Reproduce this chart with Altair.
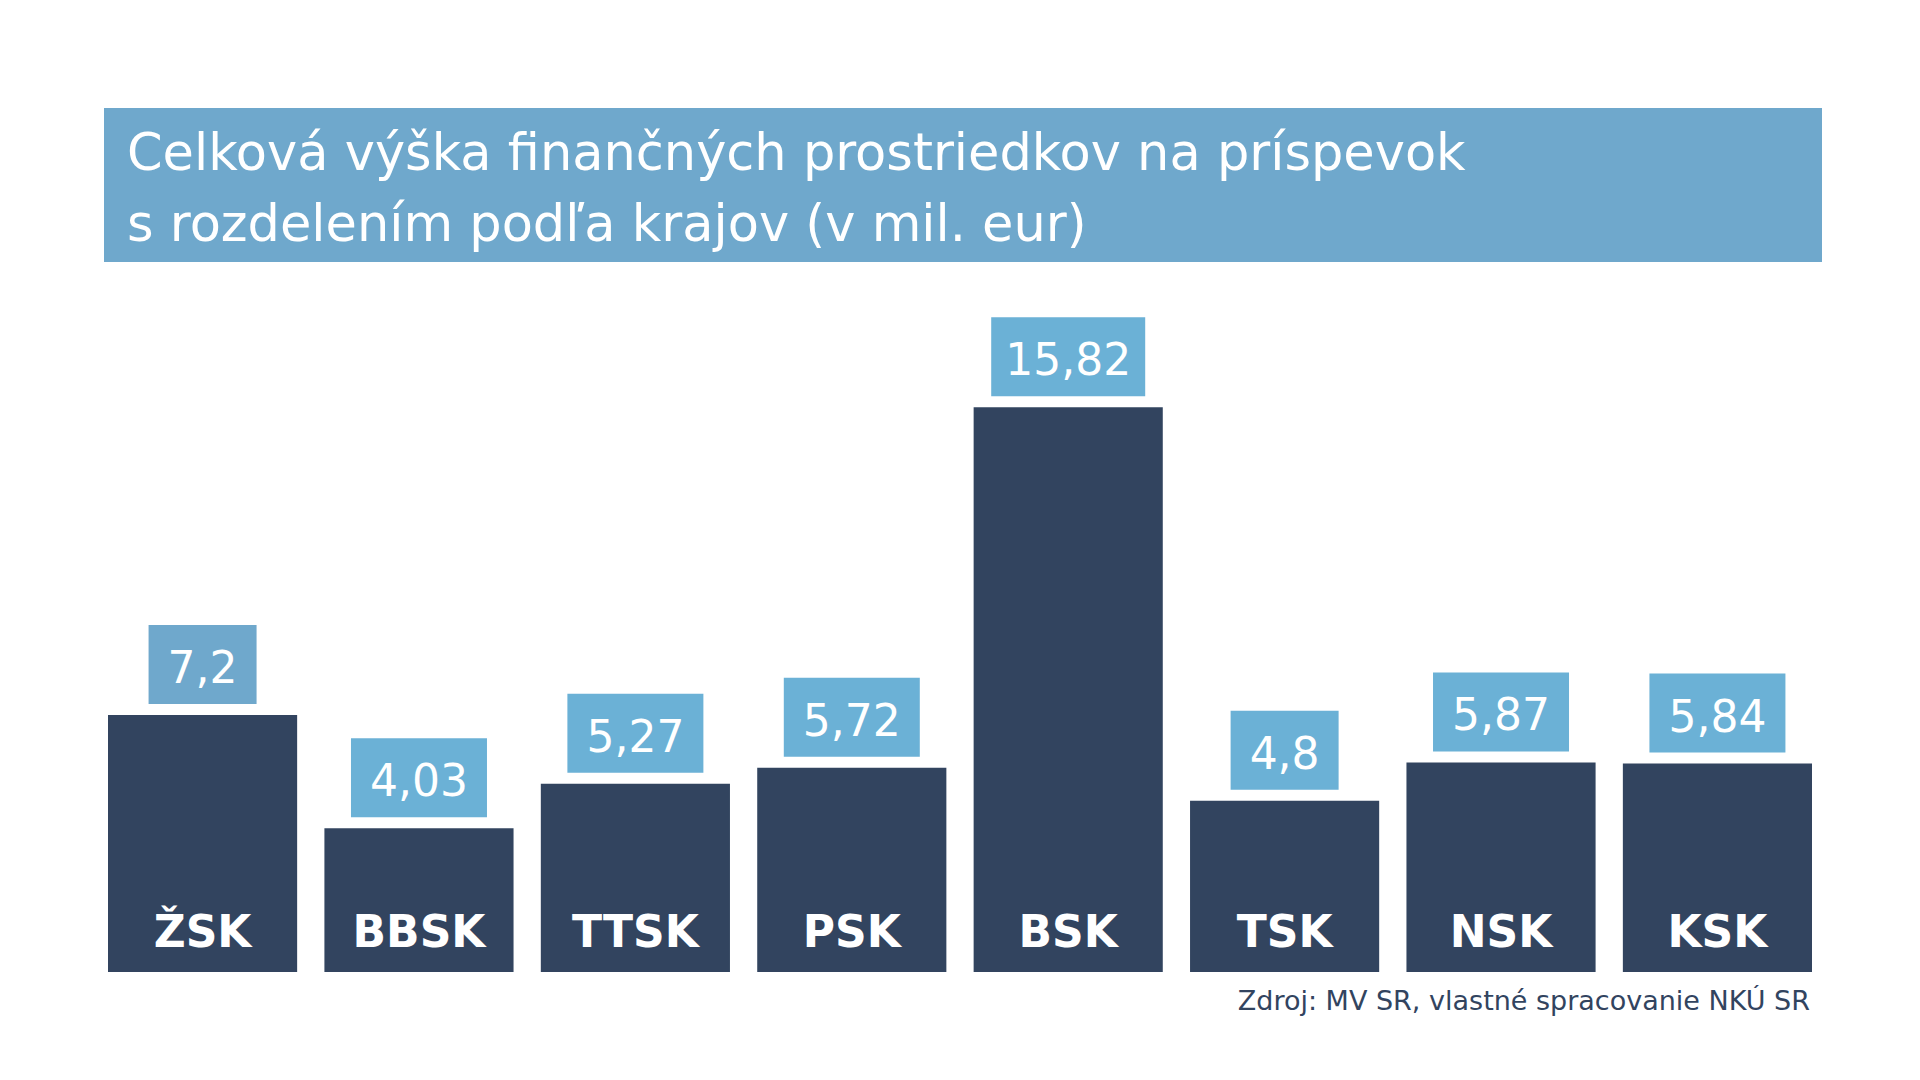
import altair as alt
import pandas as pd

REGIONS = ["ŽSK", "BBSK", "TTSK", "PSK", "BSK", "TSK", "NSK", "KSK"]
VALUES = [7.2, 4.03, 5.27, 5.72, 15.82, 4.8, 5.87, 5.84]
TITLE_LINES = ["Celková výška finančných prostriedkov na príspevok",
               "s rozdelením podľa krajov (v mil. eur)"]
SOURCE = "Zdroj: MV SR, vlastné spracovanie NKÚ SR"

FONT = "DejaVu Sans"
BAR_COLOR = "#32445f"
TITLE_BG = "#6fa8cc"
BOX_COLOR = "#6bb1d6"


def label_of(v):
    return str(v).replace(".", ",")


def box_width(s):
    w = 0
    for ch in s:
        w += 12 if ch == "," else (18 if ch == "1" else 28)
    return w + 40


labels = [label_of(v) for v in VALUES]
df = pd.DataFrame({
    "region": REGIONS,
    "value": VALUES,
    "label": labels,
    "boxw": [box_width(s) for s in labels],
})

W, H = 1704, 714
x = alt.X("region:N", sort=REGIONS, axis=None,
          scale=alt.Scale(paddingInner=0.126, paddingOuter=0))
y = alt.Y("value:Q", axis=None, scale=alt.Scale(domain=[0, 20], nice=False, zero=True))

base = alt.Chart(df)

bars = base.mark_bar(color=BAR_COLOR).encode(x=x, y=y)

boxes = base.mark_bar(yOffset=-11, y2Offset=-90).encode(
    x=x, y=y, y2=alt.Y2("value:Q"),
    size=alt.Size("boxw:Q", scale=None, legend=None),
    color=alt.condition(alt.datum.region == "ŽSK", alt.value(TITLE_BG), alt.value(BOX_COLOR)),
)

value_text = base.mark_text(color="white", font=FONT, fontSize=44, baseline="alphabetic",
                            align="center", dy=-32).encode(x=x, y=y, text="label:N")

region_text = base.mark_text(color="white", font=FONT, fontSize=44, fontWeight="bold",
                             baseline="alphabetic", align="center", dy=-25).encode(
    x=x, y=alt.datum(0, type="quantitative", scale=alt.Scale(domain=[0, 20])), text="region:N")

deco = alt.Chart(pd.DataFrame({"a": [0]}))

title_bg = deco.mark_rect(color=TITLE_BG).encode(
    x=alt.value(-4), x2=alt.value(1714), y=alt.value(-150), y2=alt.value(4))

title_text = deco.mark_text(text=TITLE_LINES, color="white", font=FONT, fontSize=51,
                            align="left", baseline="alphabetic", lineHeight=71).encode(
    x=alt.value(19), y=alt.value(-88))

source_text = deco.mark_text(text=SOURCE, color=BAR_COLOR, font=FONT, fontSize=27,
                             align="right", baseline="alphabetic").encode(
    x=alt.value(1702), y=alt.value(752))

chart = alt.layer(title_bg, title_text, bars, boxes, value_text, region_text, source_text).properties(
    width=W, height=H,
    padding={"left": 100, "top": 250, "right": 100, "bottom": 100},
    autosize=alt.AutoSizeParams(type="none"),
    background="white",
).configure_view(stroke=None)

chart.save("out.html", embed_options={"renderer": "svg", "actions": False})
